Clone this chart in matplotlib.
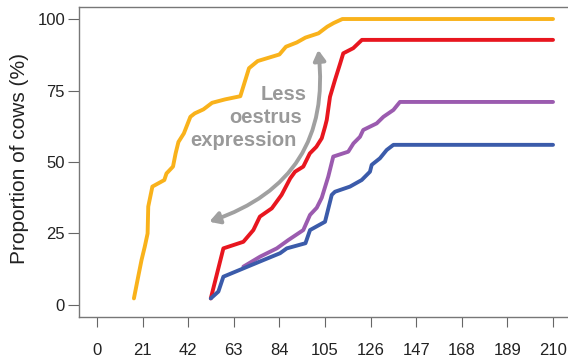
import numpy as np
import matplotlib
matplotlib.use('Agg')
import matplotlib.pyplot as plt

plt.rcParams['font.family'] = ['Liberation Sans', 'DejaVu Sans']

# days since calving vs cumulative proportion of cows (%)
orange_x = [17, 19, 20.5, 22, 23.3, 23.6, 25.5, 31, 32, 35, 36.2, 37.5, 40, 43, 45, 49,
            53, 59, 66, 70, 74, 84, 87, 92, 96, 102, 106, 109, 113, 210]
orange_y = [2.3, 10, 15.7, 20.4, 25, 34.4, 41.4, 43.7, 46, 48.4, 53, 57, 60, 65.8, 67, 68.4,
            70.7, 71.9, 73, 82.8, 85.3, 87.6, 90.3, 91.8, 93.5, 95, 97.3, 98.6, 100, 100]

red_x = [52.4, 58.2, 67.4, 72, 75, 80.5, 85, 89, 91.2, 95, 98, 101, 103.5, 105, 105.8,
         107.3, 109.6, 112, 113.4, 118, 122, 210]
red_y = [2.3, 19.8, 22.1, 26.2, 30.9, 33.8, 38.5, 44.3, 46.6, 48.4, 53, 55.3, 58.3, 62.3, 64.7,
         72.8, 78.7, 84.5, 88, 89.8, 92.7, 92.7]

purple_x = [67.4, 75.1, 82.8, 88.1, 95, 98.1, 101.2, 103.5, 106.5, 108.8, 115.7, 118.1,
            121.1, 122.6, 128.8, 131.9, 136.5, 139.5, 210]
purple_y = [13.4, 16.9, 19.8, 22.7, 26.2, 31.5, 34, 37.5, 44.9, 51.9, 53.6, 56.5,
            58.8, 61.2, 63.5, 65.8, 68.2, 71, 71]

blue_x = [52.4, 55.9, 58.2, 67.4, 76.6, 84.3, 87.4, 96, 98.1, 105, 108.1, 109.6, 116.5,
          121.9, 125.7, 126.5, 130.3, 133.4, 136.5, 210]
blue_y = [2.3, 4.7, 9.9, 12.8, 15.7, 18.1, 19.8, 21.6, 26.2, 29.1, 38.5, 39.6, 41.4,
          43.7, 46.6, 49, 51.3, 54.2, 56, 56]

xticks = [0, 21, 42, 63, 84, 105, 126, 147, 168, 189, 210]
yticks = [0, 25, 50, 75, 100]

fig = plt.figure(figsize=(5.68, 3.58), dpi=100)
ax = fig.add_axes([79/568, 41/358, 489/568, 310/358])

lw = 2.8
ax.plot(orange_x, orange_y, color='#F9B21B', lw=lw, solid_capstyle='round', solid_joinstyle='round')
ax.plot(red_x, red_y, color='#E8161F', lw=lw, solid_capstyle='round', solid_joinstyle='round')
ax.plot(purple_x, purple_y, color='#9B5BAF', lw=lw, solid_capstyle='round', solid_joinstyle='round')
ax.plot(blue_x, blue_y, color='#3B5BAA', lw=lw, solid_capstyle='round', solid_joinstyle='round')

# curved double arrow + label
ax.annotate('', xy=(101.9, 89.2), xytext=(51.7, 29.1),
            arrowprops=dict(arrowstyle='<|-|>,head_length=0.6,head_width=0.35',
                            connectionstyle='arc3,rad=0.4', color='#A0A0A0', lw=2.8,
                            shrinkA=0, shrinkB=0))
grey = '#999999'
ax.text(96.7, 71.7, 'Less', ha='right', va='baseline', fontsize=14.5, fontweight='bold', color=grey)
ax.text(94.4, 63.6, 'oestrus', ha='right', va='baseline', fontsize=14.5, fontweight='bold', color=grey)
ax.text(92.1, 55.6, 'expression', ha='right', va='baseline', fontsize=14.5, fontweight='bold', color=grey)

ax.set_xlim(-8.29, 216.9)
ax.set_ylim(-4.2, 104.2)
ax.set_xticks(xticks)
ax.set_yticks(yticks)
ax.tick_params(axis='x', length=7.5, pad=11, labelsize=12, color='#666666', labelcolor='#222222')
ax.tick_params(axis='y', length=8, pad=2, labelsize=12, color='#666666', labelcolor='#222222')

for side in ['left', 'top', 'bottom']:
    ax.spines[side].set_color('#777777')
    ax.spines[side].set_linewidth(1)
ax.spines['right'].set_visible(False)

ax.set_ylabel('Proportion of cows (%)', fontsize=15, color='#222222')
ax.yaxis.set_label_coords((29 - 79) / 489, 0.51)

plt.savefig('out.png', dpi=100)
